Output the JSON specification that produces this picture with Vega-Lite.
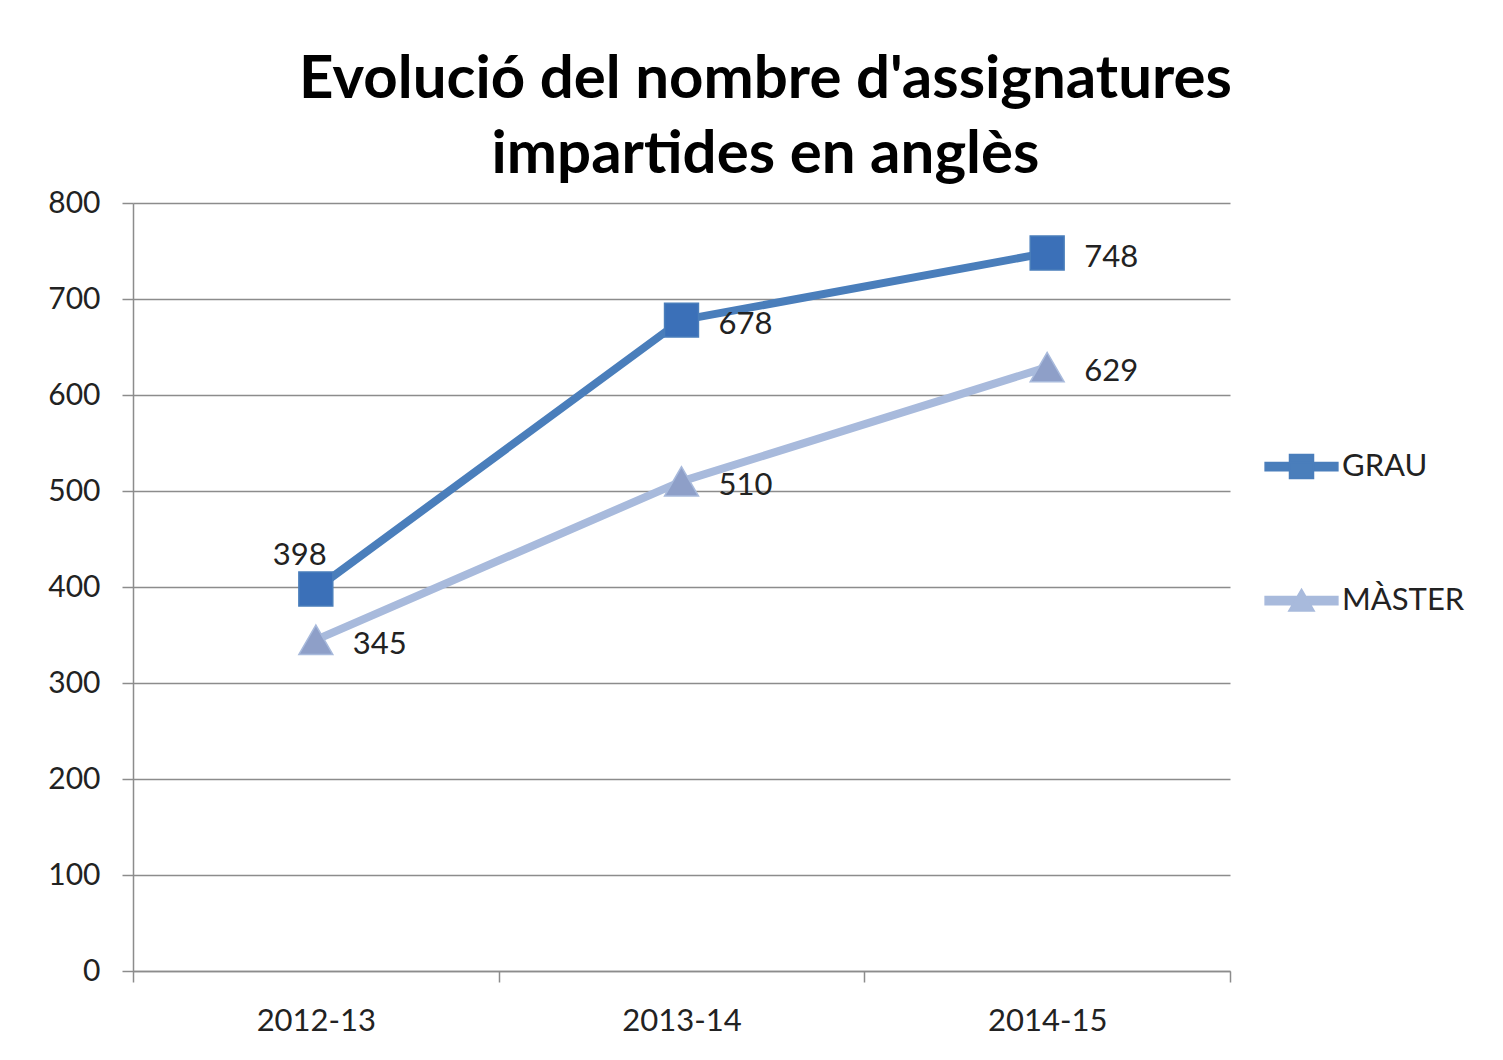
{
  "$schema": "https://vega.github.io/schema/vega-lite/v6.json",
  "autosize": "none",
  "padding": {"left": 133, "top": 203, "right": 273, "bottom": 89},
  "width": 1097,
  "height": 768,
  "background": "white",
  "config": {
    "font": "Lato",
    "view": {"stroke": null},
    "axis": {"labelFont": "Lato", "labelColor": "#222222", "labelFontSize": 30, "gridColor": "#8c8c8c", "gridWidth": 1.5, "domainColor": "#8c8c8c", "domainWidth": 1.5, "tickColor": "#8c8c8c", "tickWidth": 1.5, "title": null}
  },
  "title": {
    "text": ["Evolució del nombre d'assignatures", "impartides en anglès"],
    "font": "Lato",
    "fontSize": 60,
    "fontWeight": "bold",
    "color": "#000000",
    "lineHeight": 75,
    "anchor": "middle",
    "dx": 84,
    "offset": 2
  },
  "data": {
    "values": [
      {"curs": "2012-13", "tipus": "GRAU", "valor": 398},
      {"curs": "2013-14", "tipus": "GRAU", "valor": 678},
      {"curs": "2014-15", "tipus": "GRAU", "valor": 748},
      {"curs": "2012-13", "tipus": "MÀSTER", "valor": 345},
      {"curs": "2013-14", "tipus": "MÀSTER", "valor": 510},
      {"curs": "2014-15", "tipus": "MÀSTER", "valor": 629}
    ]
  },
  "encoding": {
    "x": {
      "field": "curs", "type": "nominal", "sort": ["2012-13", "2013-14", "2014-15"],
      "scale": {"type": "band", "paddingInner": 0, "paddingOuter": 0},
      "axis": {"labelAngle": 0, "tickBand": "extent", "tickSize": 11, "labelPadding": 24, "labelFontSize": 31, "grid": false}
    },
    "y": {
      "field": "valor", "type": "quantitative",
      "scale": {"domain": [0, 800], "nice": false},
      "axis": {"values": [0, 100, 200, 300, 400, 500, 600, 700, 800], "tickSize": 11, "labelPadding": 22, "grid": true}
    }
  },
  "layer": [
    {
      "mark": {"type": "line", "strokeWidth": 8, "strokeCap": "round", "strokeJoin": "round"},
      "encoding": {
        "color": {
          "field": "tipus", "type": "nominal",
          "scale": {"domain": ["GRAU", "MÀSTER"], "range": ["#4a7ebb", "#a8badc"]},
          "legend": {
            "orient": "none",
            "legendX": 1130,
            "legendY": 225,
            "title": null,
            "padding": 0,
            "symbolSize": 5625,
            "rowPadding": 80,
            "labelOffset": 2,
            "labelFont": "Lato",
            "labelFontSize": 31,
            "labelColor": "#222222",
            "encode": {
              "symbols": {
                "update": {
                  "shape": {"signal": "datum.value === 'GRAU' ? 'M-0.97,-0.11H0.97V0.11H-0.97Z M-0.32,-0.32H0.32V0.32H-0.32Z' : 'M-0.97,-0.11H0.97V0.11H-0.97Z M0,-0.3L0.34,0.28H-0.34Z'"},
                  "fill": {"signal": "datum.value === 'GRAU' ? '#4a7ebb' : '#a8badc'"},
                  "stroke": {"value": "transparent"},
                  "size": {"value": 5625},
                  "opacity": {"value": 1},
                  "fillOpacity": {"value": 1}
                }
              }
            }
          }
        }
      }
    },
    {
      "transform": [{"filter": "datum.tipus === 'GRAU'"}],
      "mark": {"type": "point", "shape": "square", "size": 1150, "filled": true, "opacity": 1, "fill": "#3b70b8", "stroke": "#4a7ebb", "strokeWidth": 1.5}
    },
    {
      "transform": [{"filter": "datum.tipus === 'MÀSTER'"}],
      "mark": {"type": "point", "shape": "triangle-up", "size": 1150, "filled": true, "opacity": 1, "fill": "#8e9fc8", "stroke": "#a8badc", "strokeWidth": 1.5}
    },
    {
      "transform": [{"filter": "datum.tipus === 'GRAU' && datum.curs === '2012-13'"}],
      "mark": {"type": "text", "font": "Lato", "fontSize": 31, "color": "#222222", "align": "center", "baseline": "alphabetic", "dx": -16, "dy": -24},
      "encoding": {"text": {"field": "valor", "type": "quantitative"}}
    },
    {
      "transform": [{"filter": "!(datum.tipus === 'GRAU' && datum.curs === '2012-13')"}],
      "mark": {"type": "text", "font": "Lato", "fontSize": 31, "color": "#222222", "align": "left", "baseline": "alphabetic", "dx": 37, "dy": 14},
      "encoding": {"text": {"field": "valor", "type": "quantitative"}}
    }
  ]
}
